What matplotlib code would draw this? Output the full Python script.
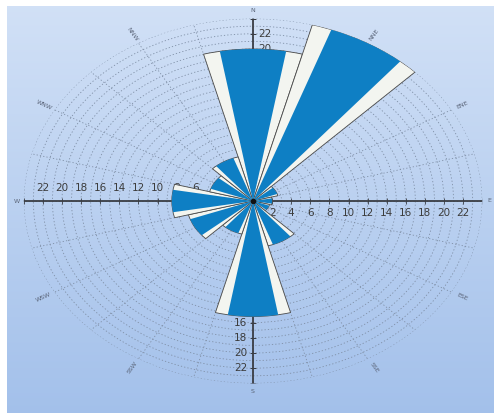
import numpy as np
import matplotlib
matplotlib.use("Agg")
import matplotlib.pyplot as plt

# wind rose data: 12 sectors, 30 degrees apart
directions = ['N', 'NNE', 'ENE', 'E', 'ESE', 'SSE', 'S', 'SSW', 'WSW', 'W', 'WNW', 'NNW']
angles_deg = [0, 30, 60, 90, 120, 150, 180, 210, 240, 270, 300, 330]
calm_part = [20, 24, 2.7, 2, 1.8, 6.1, 15.2, 4.5, 7, 8.5, 4.7, 6]
total_part = [20, 24, 2.7, 2, 1.8, 6.1, 15.2, 4.5, 7, 8.5, 4.7, 6]
axis_labels = [2, 4, 6, 8, 10, 12, 14, 16, 18, 20, 22]

W, H = 494, 413
fig = plt.figure(figsize=(W / 100, H / 100), dpi=100, facecolor='white')

# gradient background
bg = fig.add_axes([7 / W, 0, 1 - 7 / W, 1 - 6 / H])
bg.axis('off')
top = np.array([0.82, 0.88, 0.965])
bot = np.array([0.64, 0.755, 0.92])
t = np.linspace(0, 1, 200)[:, None, None]
grad = top * (1 - t) + bot * t
bg.imshow(np.repeat(grad, 2, axis=1), aspect='auto', extent=[0, 1, 0, 1])

# polar axes, stretched into an ellipse
cx, cy = 253, 201
kx, ky = 9.55, 7.6
rmax = 24
left = (cx - rmax * kx) / W
bottom = (H - cy - rmax * ky) / H
ax = fig.add_axes([left, bottom, 2 * rmax * kx / W, 2 * rmax * ky / H],
                  projection='polar')
ax.set_aspect('auto')
ax.set_facecolor('none')
ax.set_theta_zero_location('N')
ax.set_theta_direction(-1)
ax.set_ylim(0, rmax)
ax.set_yticks(np.arange(1, rmax + 1))
ax.set_yticklabels([])
ax.set_xticks(np.deg2rad(np.arange(0, 360, 15)))
ax.set_xticklabels([])
ax.grid(True, color='#7f8fa6', linestyle=(0, (1.5, 2.5)), linewidth=0.6)
ax.spines['polar'].set_visible(False)

theta = np.deg2rad(angles_deg)
ax.bar(theta, total_part, width=np.deg2rad(30), bottom=0, color='#f3f5f0',
       edgecolor='#4a4a4a', linewidth=0.6, zorder=3)
ax.bar(theta, calm_part, width=np.deg2rad(20), bottom=0, color='#0e7fc4',
       edgecolor='none', zorder=4)
ax.plot([0], [0], 'o', color='#111111', markersize=3, zorder=6)

# cross axes with ticks
for a in [0, 90, 180, 270]:
    ax.plot([np.deg2rad(a)] * 2, [0, rmax], color='#3a3d44', linewidth=1.3, zorder=2)
    rr = np.arange(2, rmax + 1, 2)
    ax.plot([np.deg2rad(a)] * len(rr), rr, linestyle='none',
            marker='|' if a in (90, 270) else '_', markersize=5,
            color='#3a3d44', markeredgewidth=0.6, zorder=2)

for v in axis_labels:
    kw = dict(textcoords='offset pixels', fontsize=7.5, color='#3c3c3c', zorder=2)
    ax.annotate(str(v), xy=(np.deg2rad(90), v), xytext=(0, -12),
                ha='center', va='center', **kw)
    ax.annotate(str(v), xy=(np.deg2rad(270), v), xytext=(0, 13),
                ha='center', va='center', **kw)
    ax.annotate(str(v), xy=(0, v), xytext=(5, 0),
                ha='left', va='center', **kw)
    ax.annotate(str(v), xy=(np.pi, v), xytext=(-6, 0),
                ha='right', va='center', **kw)

# direction labels around the rose
for name, a in zip(directions, angles_deg):
    rad = np.deg2rad(a)
    rot = np.degrees(np.arctan2(np.cos(rad) * ky, np.sin(rad) * kx))
    if rot > 90:
        rot -= 180
    elif rot <= -90:
        rot += 180
    r_lab = 25.3
    if a % 90 == 0:
        rot = 0
        r_lab = 24.7 if a in (90, 270) else 25.1
    ax.text(rad, r_lab, name, fontsize=4.5, color='#5a6478', rotation=rot,
            ha='center', va='center', rotation_mode='anchor', clip_on=False)

fig.savefig('out.png', dpi=100, facecolor=fig.get_facecolor())
